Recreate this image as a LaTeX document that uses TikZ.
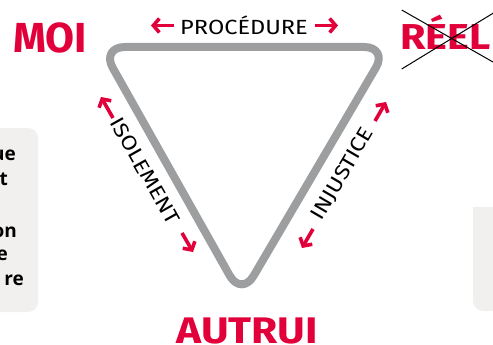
\documentclass[tikz,border=0pt]{standalone}
\usepackage{fontspec}
\setmainfont{Fira Sans}
\newfontfamily\labfont{Fira Sans}[FakeStretch=1.15]
\newfontfamily\titlefont{Fira Sans}[FakeStretch=1.15]
\newfontfamily\boxfont{Open Sans}
\usetikzlibrary{arrows.meta}
\definecolor{myred}{RGB}{226,0,58}
\definecolor{trigray}{RGB}{157,158,160}
\definecolor{boxgray}{RGB}{241,240,238}
\begin{document}
\begin{tikzpicture}[x=1pt,y=-1pt,
 tri/.style={draw=trigray,line width=8pt,rounded corners=24pt,line join=round},
 redarrow/.style={draw=myred,line width=3.6pt,-{Straight Barb[length=6pt,width=14pt]}},
 bigtitle/.style={text=myred,font=\fontsize{#1}{#1}\selectfont\bfseries,inner sep=0pt,anchor=base},
 widetitle/.style={text=myred,font=\titlefont\fontsize{#1}{#1}\selectfont\bfseries,inner sep=0pt,anchor=base},
 lab/.style={font=\labfont\fontsize{20.5}{20.5}\selectfont,inner sep=0pt,anchor=center},
 boxtxt/.style={font=\boxfont\bfseries\fontsize{19}{19}\selectfont,inner sep=0pt,anchor=base east},
 panel/.style={fill=boxgray},
 cross/.style={draw=black,line width=1pt}
]
\useasboundingbox (0,0) rectangle (493,345);
% side panels
\fill[panel] (-20,312) -- (-20,128) [rounded corners=10pt] -- (38,128) -- (38,312) [sharp corners] -- cycle;
\fill[panel] (520,207) -- (473,207) [rounded corners=10pt] -- (473,311) -- (520,311) [sharp corners] -- cycle;
% cut-off texts in the left panel
\node[boxtxt] (t1) at (16,160) {ue};
\node[boxtxt] (t2) at (8,185) {t};
\node[boxtxt] (t3) at (17,237) {on};
\node[boxtxt] (t4) at (8,260) {e};
\node[boxtxt] (t5) at (24,285) {re};
% triangle
\coordinate (tl) at (101,47);
\coordinate (tr) at (388,47);
\coordinate (bt) at (241.5,296.5);
\draw[tri] (tl) -- (tr) -- (bt) -- cycle;
% titles
\node[bigtitle=42] (moi) at (50,53) {MOI};
\node[widetitle=37] (autrui) at (247,343) {AUTRUI};
\node[widetitle=36,anchor=base west] (reel) at (400,50) {RÉEL};
\coordinate (c1a) at (401.7,10);
\coordinate (c1b) at (500,66);
\coordinate (c2a) at (401.7,69);
\coordinate (c2b) at (500,9);
\draw[cross] (c1a) -- (c1b);
\draw[cross] (c2a) -- (c2b);
% side labels
\node[lab] (proc) at (244,25.5) {PROCÉDURE};
\node[lab,rotate=-60.6] (isol) at (145,171) {ISOLEMENT};
\node[lab,rotate=59.6] (inj) at (343,174) {INJUSTICE};
% red arrows
\coordinate (pa1) at (174,25.5); \coordinate (pa2) at (151,25.5);
\coordinate (pb1) at (315,25.5); \coordinate (pb2) at (338,25.5);
\coordinate (ia1) at (113,118); \coordinate (ia2) at (101,97);
\coordinate (ib1) at (182,233); \coordinate (ib2) at (193,252);
\coordinate (ja1) at (375,121); \coordinate (ja2) at (386,102);
\coordinate (jb1) at (313,229); \coordinate (jb2) at (302,248);
\draw[redarrow] (pa1) -- (pa2);
\draw[redarrow] (pb1) -- (pb2);
\draw[redarrow] (ia1) -- (ia2);
\draw[redarrow] (ib1) -- (ib2);
\draw[redarrow] (ja1) -- (ja2);
\draw[redarrow] (jb1) -- (jb2);
\end{tikzpicture}
\end{document}
